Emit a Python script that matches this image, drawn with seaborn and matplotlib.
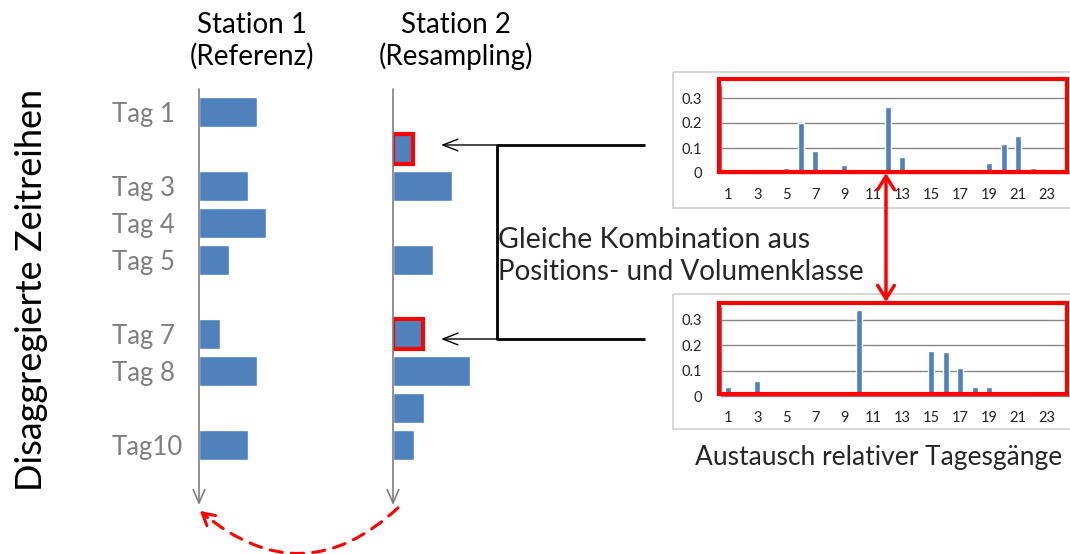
import numpy as np
import pandas as pd
import matplotlib
matplotlib.use("Agg")
import matplotlib.pyplot as plt
from matplotlib.patches import Rectangle, FancyArrowPatch
import seaborn as sns

# ---------------- data ----------------
days = ["Tag 1", "Tag 2", "Tag 3", "Tag 4", "Tag 5", "Tag 6", "Tag 7", "Tag 8", "Tag 9", "Tag10"]
day_labels = ["Tag 1", "", "Tag 3", "Tag 4", "Tag 5", "", "Tag 7", "Tag 8", "", "Tag10"]
station1 = [58, np.nan, 49, 67, 30, np.nan, 21, 58, np.nan, 49]
station2 = [np.nan, 20, 59, np.nan, 40, np.nan, 30, 77, 31, 21]
highlight_rows = [1, 6]  # rows exchanged in station 2

hours = [str(h) for h in range(1, 25)]
profile_a = [0, 0, 0, 0, 0.022, 0.200, 0.090, 0, 0.033, 0, 0, 0.265,
             0.063, 0, 0, 0, 0, 0, 0.042, 0.115, 0.147, 0.020, 0, 0]
profile_b = [0.035, 0.014, 0.058, 0, 0, 0, 0, 0, 0, 0.338, 0, 0,
             0, 0, 0.178, 0.172, 0.112, 0.035, 0.035, 0, 0, 0, 0, 0]

title1 = ["Station 1", "(Referenz)"]
title2 = ["Station 2", "(Resampling)"]
ylab = "Disaggregierte Zeitreihen"
mid_lines = ["Gleiche Kombination aus", "Positions- und Volumenklasse"]
bottom_text = "Austausch relativer Tagesgänge"

# ---------------- style ----------------
sns.set_theme(style="white")
plt.rcParams["font.family"] = ["Lato", "DejaVu Sans"]

W, H = 1070, 554
fig = plt.figure(figsize=(W / 100, H / 100), dpi=100)
BLUE = "#4F81BD"
GREY = "#7F7F7F"
RED = "#FF0000"


def px_axes(left, top, right, bottom, **kw):
    return fig.add_axes([left / W, (H - bottom) / H, (right - left) / W, (bottom - top) / H], **kw)


# overlay in pixel coordinates (background)
ov = fig.add_axes([0, 0, 1, 1], zorder=0)
ov.set_xlim(0, W)
ov.set_ylim(H, 0)
ov.axis("off")

# ---------------- station bars ----------------
row0, dy = 112, 37.0
top_px, bot_px = 89, 505
ylim = ((bot_px - row0) / dy, (top_px - row0) / dy)

df1 = pd.DataFrame({"day": days, "v": station1})
df2 = pd.DataFrame({"day": days, "v": station2})

for x0, df, show_lab in [(199, df1, True), (393, df2, False)]:
    ax = px_axes(x0, top_px, x0 + 150, bot_px, zorder=2)
    ax.patch.set_alpha(0)
    sns.barplot(data=df, x="v", y="day", order=days, orient="h", color=BLUE,
                saturation=1, width=0.81, errorbar=None, ax=ax)
    ax.set_xlim(0, 150)
    ax.set_ylim(*ylim)
    for s in ax.spines.values():
        s.set_visible(False)
    ax.set_xlabel("")
    ax.set_ylabel("")
    ax.set_xticks([])
    ax.annotate("", xy=(0, ylim[0]), xytext=(0, ylim[1]), xycoords="data",
                arrowprops=dict(arrowstyle="->,head_length=0.8,head_width=0.35",
                                color=GREY, lw=1.2, shrinkA=0, shrinkB=0),
                annotation_clip=False)
    if show_lab:
        ax.set_yticks(range(len(days)))
        ax.set_yticklabels(day_labels, color=GREY, fontsize=18.5)
        for t in ax.get_yticklabels():
            t.set_horizontalalignment("left")
        ax.tick_params(axis="y", length=0, pad=62.6)
    else:
        ax.set_yticks([])
        for p in ax.patches:
            row = int(round(p.get_y() + p.get_height() / 2))
            if row in highlight_rows:
                p.set_edgecolor(RED)
                p.set_linewidth(3)

# ---------------- hourly profile charts ----------------
for (top, bot, vals) in [(85.5, 173, profile_a), (307.3, 396, profile_b)]:
    ax = px_axes(721, top, 1069, bot, zorder=2)
    dfp = pd.DataFrame({"h": hours, "v": vals})
    sns.barplot(data=dfp, x="h", y="v", order=hours, color=BLUE, saturation=1,
                width=0.38, errorbar=None, ax=ax, zorder=3)
    ax.set_ylim(0, 0.35)
    ax.set_xlim(-0.5, 23.5)
    ax.set_yticks([0, 0.1, 0.2, 0.3])
    ax.set_yticklabels(["0", "0.1", "0.2", "0.3"], fontsize=10.5, color="#222222")
    ax.set_xticks(range(0, 24, 2))
    ax.set_xticklabels(hours[::2], fontsize=10.5, color="#222222")
    ax.set_xticks(np.arange(-0.5, 24, 1), minor=True)
    ax.tick_params(axis="x", which="major", length=0, pad=11)
    ax.tick_params(axis="x", which="minor", length=5, color="#868686", width=1, direction="out")
    ax.tick_params(axis="y", length=0, pad=14)
    ax.yaxis.grid(True, color="#868686", lw=1)
    ax.set_axisbelow(True)
    for k in ["top", "right"]:
        ax.spines[k].set_visible(False)
    for k in ["left", "bottom"]:
        ax.spines[k].set_color("#868686")
        ax.spines[k].set_linewidth(1)
    ax.set_xlabel("")
    ax.set_ylabel("")
    ax.patch.set_alpha(0)

# frames
ov.add_patch(Rectangle((673, 72), 420, 136, fill=False, ec="#D0D0D0", lw=1.2))
ov.add_patch(Rectangle((673, 294), 420, 135, fill=False, ec="#D0D0D0", lw=1.2))

top_ax = fig.add_axes([0, 0, 1, 1], zorder=10)
top_ax.set_xlim(0, W)
top_ax.set_ylim(H, 0)
top_ax.axis("off")
top_ax.add_patch(Rectangle((719, 79), 348, 93, fill=False, ec=RED, lw=3))
top_ax.add_patch(Rectangle((719, 303), 348, 91, fill=False, ec=RED, lw=3))

# red double arrow
top_ax.annotate("", xy=(886, 173), xytext=(886, 302),
                arrowprops=dict(arrowstyle="<->,head_length=0.8,head_width=0.5",
                                color=RED, lw=2.5, shrinkA=0, shrinkB=0))

# black connectors
for y in (145, 339):
    top_ax.plot([497, 645], [y, y], color="black", lw=2, solid_capstyle="butt")
    top_ax.annotate("", xy=(441, y), xytext=(497, y),
                    arrowprops=dict(arrowstyle="->,head_length=0.9,head_width=0.35",
                                    color="black", lw=1, shrinkA=0, shrinkB=0))
top_ax.plot([497, 497], [144, 340], color="black", lw=2, solid_capstyle="butt")

# dashed red curved arrow (dashed body + solid head)
p_start, p_end, rad = (400, 506), (200, 511), -0.45
arr = FancyArrowPatch(p_start, p_end, connectionstyle=f"arc3,rad={rad}",
                      arrowstyle="-", color=RED, lw=2.2, linestyle=(0, (4, 3)))
top_ax.add_patch(arr)
# control point of the arc (display y is flipped relative to data here)
mx, my = (p_start[0] + p_end[0]) / 2, (p_start[1] + p_end[1]) / 2
ddx, ddy = p_end[0] - p_start[0], -(p_end[1] - p_start[1])
cx, cy_disp = mx + rad * ddy, -my - rad * ddx
cy = -cy_disp
tx, ty = p_end[0] - cx, p_end[1] - cy
norm = np.hypot(tx, ty)
top_ax.annotate("", xy=p_end, xytext=(p_end[0] - 10 * tx / norm, p_end[1] - 10 * ty / norm),
                arrowprops=dict(arrowstyle="->,head_length=0.7,head_width=0.4",
                                color=RED, lw=2.2, shrinkA=0, shrinkB=0))

# ---------------- texts ----------------
for cx_, (l1, l2) in [(252, title1), (456, title2)]:
    top_ax.text(cx_, 33, l1, ha="center", va="baseline", fontsize=20, color="black")
    top_ax.text(cx_, 65, l2, ha="center", va="baseline", fontsize=20, color="black")

top_ax.text(32, 290, ylab, rotation=90, ha="center", va="center", fontsize=26, color="black")
top_ax.text(498, 248, mid_lines[0], ha="left", va="baseline", fontsize=20.5)
top_ax.text(498, 280, mid_lines[1], ha="left", va="baseline", fontsize=20)
top_ax.text(695, 465, bottom_text, ha="left", va="baseline", fontsize=19)

fig.savefig("out.png", dpi=100)
